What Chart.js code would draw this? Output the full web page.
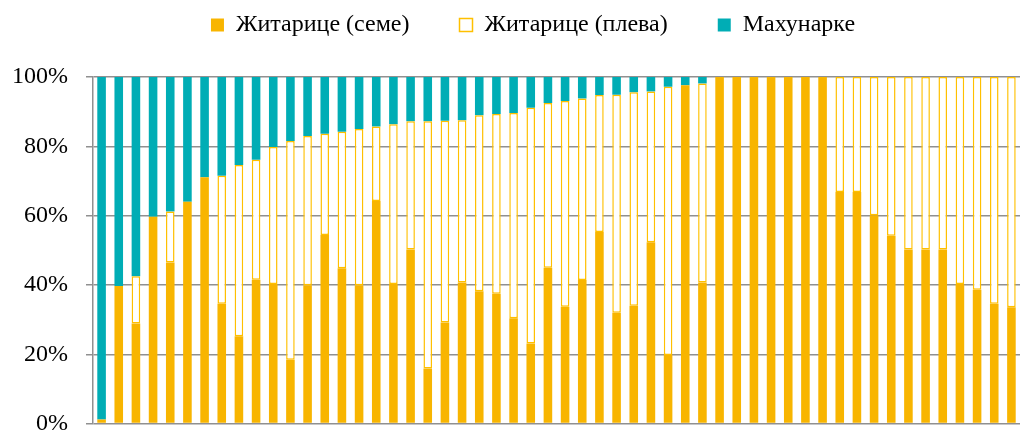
<!DOCTYPE html>
<html lang="sr">
<head>
  <meta charset="UTF-8" />
  <title>Житарице и махунарке</title>
  <script src="https://cdn.jsdelivr.net/npm/chart.js@4.4.1/dist/chart.umd.min.js"></script>
  <style>
    html,body{margin:0;padding:0;background:#fff;overflow:hidden}
    #wrap{width:1025px;height:456px}
  </style>
</head>
<body>
<div id="wrap"><canvas id="chart" width="1025" height="456"></canvas></div>
<script>
  const samples = ['1','2','3','4','5','6','7','8','9','10','11','12','13','14','15','16','17','18',
    '19','20','21','22','23','24','25','26','27','28','29','30','31','32','33','34','35','36',
    '37','38','39','40','41','42','43','44','45','46','47','48','49','50','51','52','53','54'];
  // percent of sample
  const seeds = [1.2, 39.7, 28.9, 59.7, 46.5, 64.0, 71.1, 34.6, 25.2, 41.5, 40.3, 18.4, 39.9, 54.4, 44.8, 39.9, 64.2, 40.3,
    50.2, 15.9, 29.2, 40.7, 38.2, 37.5, 30.4, 23.1, 45.0, 33.7, 41.4, 55.3, 32.0, 34.0, 52.3, 19.8, 97.6, 40.7,
    100, 100, 100, 100, 100, 100, 100, 66.8, 66.8, 60.1, 54.2, 50.2, 50.2, 50.2, 40.3, 38.6, 34.6, 33.6];
  const chaff = [0, 0, 13.6, 0, 14.7, 0, 0, 36.9, 49.4, 34.6, 39.5, 63.1, 43.1, 29.2, 39.4, 45.1, 21.5, 46.1,
    37.0, 71.3, 58.2, 46.8, 50.8, 51.8, 59.2, 68.0, 47.5, 59.4, 52.4, 39.5, 62.9, 61.6, 43.5, 77.4, 0, 57.4,
    0, 0, 0, 0, 0, 0, 0, 33.2, 33.2, 39.9, 45.8, 49.8, 49.8, 49.8, 59.7, 61.4, 65.4, 66.4];
  const legumes = [98.8, 60.3, 57.5, 40.3, 38.8, 36.0, 28.9, 28.5, 25.4, 23.9, 20.2, 18.5, 17.0, 16.4, 15.8, 15.0, 14.3, 13.6,
    12.8, 12.8, 12.6, 12.5, 11.0, 10.7, 10.4, 8.9, 7.5, 6.9, 6.2, 5.2, 5.1, 4.4, 4.2, 2.8, 2.4, 1.9,
    0, 0, 0, 0, 0, 0, 0, 0, 0, 0, 0, 0, 0, 0, 0, 0, 0, 0];
  const yTicks = [0, 20, 40, 60, 80, 100];

  const serif = "'Liberation Serif', 'Times New Roman', serif";
  const gridGray = '#909090';

  // legend items are spread wide; trim its box and move the row into place
  const legendTweak = {
    id: 'legendTweak',
    beforeInit(chart) {
      const fit = chart.legend.fit;
      chart.legend.fit = function() { fit.call(this); this.height -= 7; };
    },
    afterLayout(chart) {
      const lg = chart.legend;
      lg.top -= 37; lg.bottom -= 37;
      lg.left += 18; lg.right += 18;
    }
  };

  new Chart(document.getElementById('chart'), {
    type: 'bar',
    data: {
      labels: samples,
      datasets: [
        {label: 'Житарице (семе)', data: seeds, backgroundColor: '#F8B500', borderColor: '#F8B500', borderWidth: 0},
        {label: 'Житарице (плева)', data: chaff, backgroundColor: '#FFFFFF', borderColor: '#FFC000', borderWidth: 1.5, borderSkipped: false},
        {label: 'Махунарке', data: legumes, backgroundColor: '#00ADB5', borderColor: '#00ADB5', borderWidth: 0}
      ]
    },
    options: {
      responsive: false,
      animation: false,
      layout: {padding: {left: 10, right: 5, top: 0, bottom: 0}},
      datasets: {bar: {barPercentage: 0.5, categoryPercentage: 1}},
      plugins: {
        tooltip: {enabled: false},
        legend: {
          position: 'top',
          labels: {
            color: '#000',
            font: {family: serif, size: 24},
            boxWidth: 13, boxHeight: 13,
            padding: 50
          }
        }
      },
      scales: {
        x: {
          stacked: true,
          ticks: {display: false},
          grid: {display: false},
          border: {display: false}
        },
        y: {
          stacked: true,
          min: 0, max: 100,
          afterBuildTicks: s => { s.ticks = yTicks.map(v => ({value: v})); },
          afterFit: s => { s.width = 83; },
          ticks: {
            color: '#000',
            font: {family: serif, size: 24},
            padding: 18,
            callback: v => v + '%'
          },
          grid: {color: gridGray, lineWidth: 1.5, tickLength: 7, tickColor: gridGray},
          border: {color: gridGray, width: 1.5}
        }
      }
    },
    plugins: [legendTweak]
  });
</script>
</body>
</html>
